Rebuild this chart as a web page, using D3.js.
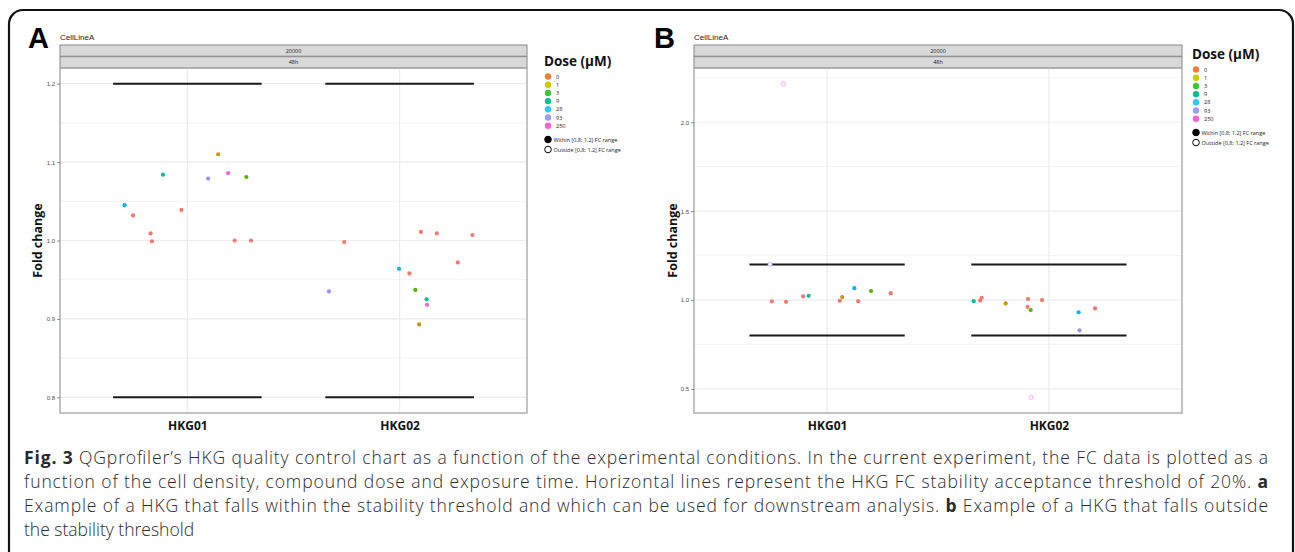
<!DOCTYPE html>
<meta charset="utf-8">
<style>
  body { margin: 0; background: #fff; }
  text { font-family: "Open Sans", sans-serif; }
</style>
<svg width="1295" height="552"></svg>
<script src="https://d3js.org/d3.v7.min.js"></script>
<script>

var genes = ["HKG01", "HKG02"];
var doses = ["0", "1", "3", "9", "28", "93", "250"];
var doseColors = ["#F8766D", "#C49A00", "#53B400", "#00C094", "#00B6EB", "#A58AFF", "#FB61D7"];
var legendColors = ["#F07D3A", "#CCCC00", "#39C939", "#00C38F", "#2FCBF7", "#9D9DF5", "#FC62CF"];
var shapeLabels = ["Within [0,8; 1,2] FC range", "Outside [0,8; 1,2] FC range"];
var fcRange = [0.8, 1.2];
var ticksA = [0.8, 0.9, 1.0, 1.1, 1.2];
var ticksB = [0.5, 1.0, 1.5, 2.0];

// [gene, dose, jitter (category units), fold change]
var pointsA = [
  ["HKG01", "9", -0.115, 1.084], ["HKG01", "1", 0.145, 1.110], ["HKG01", "93", 0.098, 1.079],
  ["HKG01", "250", 0.192, 1.086], ["HKG01", "3", 0.278, 1.081], ["HKG01", "28", -0.296, 1.045],
  ["HKG01", "0", -0.256, 1.032], ["HKG01", "0", -0.173, 1.009], ["HKG01", "0", -0.167, 0.999],
  ["HKG01", "0", -0.028, 1.039], ["HKG01", "0", 0.223, 1.000], ["HKG01", "0", 0.300, 1.000],
  ["HKG02", "93", -0.333, 0.935], ["HKG02", "0", -0.261, 0.998], ["HKG02", "0", 0.100, 1.011],
  ["HKG02", "0", 0.175, 1.009], ["HKG02", "0", 0.343, 1.007], ["HKG02", "0", 0.274, 0.972],
  ["HKG02", "28", -0.003, 0.964], ["HKG02", "0", 0.046, 0.958], ["HKG02", "3", 0.074, 0.937],
  ["HKG02", "9", 0.127, 0.925], ["HKG02", "250", 0.129, 0.918], ["HKG02", "1", 0.092, 0.893]
];
var pointsB = [
  ["HKG01", "250", -0.197, 2.217], ["HKG01", "93", -0.257, 1.201], ["HKG01", "0", -0.249, 0.993],
  ["HKG01", "0", -0.185, 0.990], ["HKG01", "0", -0.108, 1.021], ["HKG01", "9", -0.083, 1.024],
  ["HKG01", "0", 0.057, 0.996], ["HKG01", "1", 0.068, 1.017], ["HKG01", "28", 0.123, 1.067],
  ["HKG01", "0", 0.140, 0.994], ["HKG01", "3", 0.198, 1.051], ["HKG01", "0", 0.287, 1.039],
  ["HKG02", "9", -0.339, 0.994], ["HKG02", "0", -0.310, 0.998], ["HKG02", "0", -0.303, 1.013],
  ["HKG02", "1", -0.195, 0.981], ["HKG02", "0", -0.094, 1.006], ["HKG02", "0", -0.031, 1.000],
  ["HKG02", "0", -0.096, 0.962], ["HKG02", "3", -0.082, 0.944], ["HKG02", "28", 0.134, 0.931],
  ["HKG02", "0", 0.208, 0.953], ["HKG02", "93", 0.138, 0.830], ["HKG02", "250", -0.080, 0.453]
];

var captionLines = [
  [["Fig. 3", true], [" QGprofiler\u2019s HKG quality control chart as a function of the experimental conditions. In the current experiment, the FC data is plotted as a", false]],
  [["function of the cell density, compound dose and exposure time. Horizontal lines represent the HKG FC stability acceptance threshold of 20%. ", false], ["a", true]],
  [["Example of a HKG that falls within the stability threshold and which can be used for downstream analysis. ", false], ["b", true], [" Example of a HKG that falls outside", false]],
  [["the stability threshold", false]]
];

var svg = d3.select("svg");

// outer rounded frame
svg.append("rect")
    .attr("x", 9).attr("y", 10)
    .attr("width", 1284).attr("height", 570)
    .attr("rx", 14)
    .attr("fill", "none")
    .attr("stroke", "#111")
    .attr("stroke-width", 2.2);

var color = d3.scaleOrdinal().domain(doses).range(doseColors);

function outside(v) { return v < fcRange[0] || v > fcRange[1]; }

function drawPanel(cfg) {
    var top = 68, bottom = 413, stripTop = 45;

    var x = d3.scalePoint().domain(genes).range([cfg.left, cfg.right]).padding(0.6);
    var ext = d3.extent(cfg.points.map(d => d[3]).concat(fcRange));
    var pad = (ext[1] - ext[0]) * 0.05;
    var y = d3.scaleLinear().domain([ext[0] - pad, ext[1] + pad]).range([bottom, top]);

    var g = svg.append("g");

    // letter + title
    g.append("text").attr("x", cfg.letterX).attr("y", 48)
        .style("font-family", "'Liberation Sans', Arial, sans-serif")
        .style("font-weight", "bold").style("font-size", "29px").text(cfg.letter);
    g.append("text").attr("x", cfg.left).attr("y", 39.5)
        .style("font-family", "'Liberation Sans', Arial, sans-serif")
        .style("font-size", "8px").attr("fill", "#222").text("CellLineA");

    // strips
    ["20000", "48h"].forEach(function(s, i) {
        var sy = stripTop + i * 11.7;
        g.append("rect").attr("x", cfg.left).attr("y", sy)
            .attr("width", cfg.right - cfg.left).attr("height", 11.2)
            .attr("fill", "#d9d9d9").attr("stroke", "#888").attr("stroke-width", 1);
        g.append("text").attr("x", (cfg.left + cfg.right) / 2).attr("y", sy + 7.6)
            .attr("text-anchor", "middle").style("font-size", "5.5px").attr("fill", "#1a1a1a").text(s);
    });

    // grid
    var step = cfg.ticks[1] - cfg.ticks[0];
    var minor = d3.range(cfg.ticks[0] - step / 2, cfg.ticks[cfg.ticks.length - 1] + step, step)
        .filter(v => v > y.domain()[0] && v < y.domain()[1]);
    g.selectAll(".minor").data(minor).enter().append("line")
        .attr("x1", cfg.left).attr("x2", cfg.right)
        .attr("y1", d => y(d)).attr("y2", d => y(d))
        .attr("stroke", "#f3f3f3").attr("stroke-width", 1);
    g.selectAll(".major").data(cfg.ticks).enter().append("line")
        .attr("x1", cfg.left).attr("x2", cfg.right)
        .attr("y1", d => y(d)).attr("y2", d => y(d))
        .attr("stroke", "#ececec").attr("stroke-width", 1.2);
    g.selectAll(".vgrid").data(genes).enter().append("line")
        .attr("x1", d => x(d)).attr("x2", d => x(d))
        .attr("y1", top).attr("y2", bottom)
        .attr("stroke", "#ececec").attr("stroke-width", 1.2);

    // threshold segments
    genes.forEach(function(gn) {
        fcRange.forEach(function(v) {
            g.append("line")
                .attr("x1", x(gn) - 0.35 * x.step()).attr("x2", x(gn) + 0.35 * x.step())
                .attr("y1", y(v)).attr("y2", y(v))
                .attr("stroke", "#1a1a1a").attr("stroke-width", 2);
        });
    });

    // points
    g.selectAll(".pt").data(cfg.points).enter().append("circle")
        .attr("cx", d => x(d[0]) + d[2] * x.step())
        .attr("cy", d => y(d[3]))
        .attr("r", 2.1)
        .attr("fill", d => outside(d[3]) ? "#fff" : color(d[1]))
        .attr("stroke", d => outside(d[3]) ? color(d[1]) : "none")
        .attr("stroke-opacity", 0.5)
        .attr("stroke-width", 1);

    // panel border
    g.append("rect").attr("x", cfg.left).attr("y", top)
        .attr("width", cfg.right - cfg.left).attr("height", bottom - top)
        .attr("fill", "none").attr("stroke", "#aaa").attr("stroke-width", 1.4);

    // y axis
    var yAxis = g.append("g").attr("transform", "translate(" + cfg.left + ",0)")
        .call(d3.axisLeft(y).tickValues(cfg.ticks).tickFormat(d3.format(".1f")).tickSize(3).tickPadding(2));
    yAxis.select(".domain").remove();
    yAxis.selectAll("line").attr("stroke", "#444").attr("stroke-width", 0.6);
    yAxis.selectAll("text").style("font-size", "6px").style("font-family", "'Liberation Sans', Arial, sans-serif").attr("fill", "#4d4d4d");

    // x axis labels
    var xAxis = g.append("g").attr("transform", "translate(0," + bottom + ")")
        .call(d3.axisBottom(x).tickSize(0).tickPadding(8.5));
    xAxis.select(".domain").remove();
    xAxis.selectAll("text").style("font-size", "12px").style("font-weight", "bold").attr("fill", "#111");

    g.append("text")
        .attr("transform", "translate(" + cfg.titleX + "," + ((top + bottom) / 2) + ") rotate(-90)")
        .attr("text-anchor", "middle")
        .style("font-size", "12.5px").style("font-weight", "bold").attr("fill", "#111")
        .text("Fold change");

    // legend
    var lg = g.append("g").attr("transform", "translate(" + cfg.legendX + "," + cfg.legendY + ")");
    lg.append("text").attr("x", -4).attr("y", 0)
        .style("font-size", "13.5px").style("font-weight", "bold").attr("fill", "#111")
        .text("Dose (\u00b5M)");
    doses.forEach(function(d, i) {
        lg.append("circle").attr("cx", 0).attr("cy", 10.5 + i * 8.2).attr("r", 3.2).attr("fill", legendColors[i]);
        lg.append("text").attr("x", 8).attr("y", 12.6 + i * 8.2)
            .style("font-size", "5.5px").attr("fill", "#222").text(d);
    });
    shapeLabels.forEach(function(s, i) {
        var cy = 73.5 + i * 10;
        lg.append("circle").attr("cx", 0).attr("cy", cy).attr("r", 3.3)
            .attr("fill", i === 0 ? "#000" : "#fff").attr("stroke", "#000").attr("stroke-width", 1);
        lg.append("text").attr("x", 5.5).attr("y", cy + 2)
            .style("font-size", "5.5px").attr("fill", "#222").text(s);
    });
}

drawPanel({letter: "A", letterX: 28, left: 60, right: 527, ticks: ticksA, points: pointsA,
           titleX: 42, legendX: 548, legendY: 66});
drawPanel({letter: "B", letterX: 654, left: 694, right: 1182, ticks: ticksB, points: pointsB,
           titleX: 677, legendX: 1196, legendY: 59});

// caption (justified lines 1-3)
var capLeft = 24, capRight = 1268, capTop = 464, capStep = 24;
var cap = svg.append("g");
var lines = captionLines.map(function(parts, i) {
    var t = cap.append("text").attr("x", capLeft).attr("y", capTop + i * capStep)
        .style("font-size", "17.5px").attr("fill", "#2a2a2a");
    parts.forEach(function(p) {
        t.append("tspan").style("font-weight", p[1] ? "bold" : "300").text(p[0]);
    });
    if (i < 3) t.attr("textLength", capRight - capLeft).attr("lengthAdjust", "spacing");
    return t;
});

</script>
